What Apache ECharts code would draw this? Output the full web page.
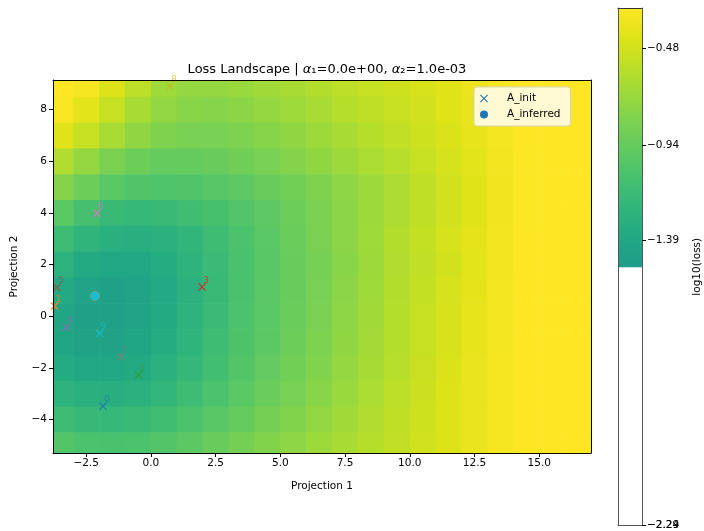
<!DOCTYPE html>
<html>
<head>
<meta charset="utf-8">
<script src="https://cdn.jsdelivr.net/npm/echarts@6/dist/echarts.min.js"></script>
<style>html,body{margin:0;padding:0;background:#fff}#c{width:704px;height:531px}</style>
</head>
<body>
<div id="c"></div>
<script>
// ---- data ----
const xCenters = [-3.5,-2.5,-1.5,-0.5,0.5,1.5,2.5,3.5,4.5,5.5,6.5,7.5,8.5,9.5,10.5,11.5,12.5,13.5,14.5,15.5,16.5];
const yCenters = [9,8,7,6,5,4,3,2,1,0,-1,-2,-3,-4,-5];
const lossGrid = [
  [-0.29,-0.32,-0.44,-0.57,-0.69,-0.73,-0.73,-0.71,-0.68,-0.65,-0.61,-0.57,-0.53,-0.50,-0.46,-0.42,-0.37,-0.32,-0.29,-0.29,-0.29],
  [-0.31,-0.41,-0.53,-0.65,-0.74,-0.78,-0.79,-0.77,-0.73,-0.69,-0.65,-0.60,-0.56,-0.52,-0.48,-0.43,-0.38,-0.33,-0.29,-0.29,-0.29],
  [-0.43,-0.53,-0.65,-0.75,-0.82,-0.85,-0.85,-0.83,-0.79,-0.75,-0.70,-0.65,-0.60,-0.55,-0.50,-0.45,-0.39,-0.33,-0.29,-0.29,-0.29],
  [-0.62,-0.73,-0.84,-0.91,-0.95,-0.95,-0.93,-0.89,-0.85,-0.80,-0.75,-0.70,-0.64,-0.59,-0.53,-0.47,-0.41,-0.34,-0.30,-0.29,-0.29],
  [-0.80,-0.91,-1.00,-1.05,-1.06,-1.05,-1.02,-0.98,-0.93,-0.88,-0.82,-0.76,-0.70,-0.63,-0.56,-0.49,-0.42,-0.35,-0.30,-0.29,-0.29],
  [-1.00,-1.11,-1.19,-1.21,-1.19,-1.14,-1.10,-1.04,-0.98,-0.91,-0.84,-0.77,-0.70,-0.63,-0.56,-0.49,-0.42,-0.35,-0.30,-0.29,-0.29],
  [-1.15,-1.25,-1.31,-1.32,-1.29,-1.24,-1.16,-1.08,-1.00,-0.92,-0.84,-0.77,-0.69,-0.61,-0.54,-0.47,-0.40,-0.34,-0.29,-0.29,-0.29],
  [-1.28,-1.37,-1.41,-1.40,-1.35,-1.27,-1.18,-1.09,-1.01,-0.93,-0.86,-0.78,-0.70,-0.62,-0.55,-0.48,-0.41,-0.34,-0.29,-0.29,-0.29],
  [-1.38,-1.45,-1.47,-1.44,-1.38,-1.29,-1.19,-1.09,-1.00,-0.93,-0.85,-0.77,-0.69,-0.61,-0.54,-0.47,-0.40,-0.33,-0.29,-0.29,-0.29],
  [-1.42,-1.47,-1.48,-1.44,-1.37,-1.28,-1.18,-1.08,-1.00,-0.92,-0.84,-0.76,-0.68,-0.60,-0.53,-0.46,-0.39,-0.33,-0.29,-0.29,-0.29],
  [-1.42,-1.46,-1.46,-1.42,-1.35,-1.26,-1.16,-1.07,-0.99,-0.91,-0.83,-0.75,-0.67,-0.60,-0.53,-0.46,-0.39,-0.33,-0.29,-0.29,-0.29],
  [-1.36,-1.40,-1.40,-1.37,-1.30,-1.22,-1.13,-1.04,-0.96,-0.88,-0.81,-0.73,-0.66,-0.59,-0.52,-0.45,-0.38,-0.32,-0.29,-0.29,-0.29],
  [-1.27,-1.31,-1.32,-1.29,-1.23,-1.16,-1.08,-1.00,-0.92,-0.85,-0.78,-0.71,-0.64,-0.57,-0.51,-0.44,-0.38,-0.32,-0.29,-0.29,-0.29],
  [-1.16,-1.20,-1.21,-1.19,-1.14,-1.08,-1.01,-0.94,-0.87,-0.81,-0.74,-0.68,-0.62,-0.56,-0.50,-0.44,-0.38,-0.32,-0.29,-0.29,-0.29],
  [-1.04,-1.08,-1.09,-1.08,-1.04,-0.99,-0.93,-0.87,-0.81,-0.76,-0.70,-0.65,-0.60,-0.55,-0.49,-0.44,-0.38,-0.32,-0.29,-0.29,-0.29]
];
const initX = [-1.85,-3.72,-0.48,1.98,-3.26,-3.63,-2.08,-1.17,0.74,-1.98];
const initY = [-3.49,0.39,-2.28,1.13,-0.43,1.11,3.99,-1.57,8.92,-0.67];
const initLabels = ['0','1','2','3','4','5','6','7','8','9'];
const inferredX = [-2.16,-2.16,-2.16,-2.16,-2.16,-2.16,-2.16,-2.16,-2.16,-2.16];
const inferredY = [0.78,0.78,0.78,0.78,0.78,0.78,0.78,0.78,0.78,0.78];
const xTicks = [-2.5,0,2.5,5,7.5,10,12.5,15];
const yTicks = [-4,-2,0,2,4,6,8];
const cbarTicks = [-1.39,-0.94,-0.48];
const cbarBottomLabels = ['-2.29','-2.24'];
const cbarColoredRange = [-1.52,-0.29];

// ---- styles ----
const tab10 = ['#1f77b4','#ff7f0e','#2ca02c','#d62728','#9467bd','#8c564b','#e377c2','#7f7f7f','#bcbd22','#17becf'];
const viridis = ['#440154','#471365','#482475','#463480','#414487','#3b528b','#355f8d','#2f6c8e','#2a788e','#25848e','#21918c','#1e9c89','#22a884','#2fb47c','#44bf70','#5ec962','#7ad151','#9bd93c','#bddf26','#dfe318','#fde725'];
const FONT = 'DejaVu Sans';
const minus = s => String(s).replace('-', '\u2212');
const crossPath = 'path://M1,0 L5,4 L9,0 L10,1 L6,5 L10,9 L9,10 L5,6 L1,10 L0,9 L4,5 L0,1 Z';

const fieldData = [];
yCenters.forEach((y, r) => xCenters.forEach((x, c) => fieldData.push([x, y, lossGrid[r][c]])));

const chart = echarts.init(document.getElementById('c'), null, {renderer: 'canvas'});
const XMIN = -3.78, XMAX = 17.0, YMIN = -5.3, YMAX = 9.15;
const CB_MIN = -2.745, CB_MAX = -0.29;

function ax(extra, lineColor) {
  return Object.assign({
    type: 'value', z: 10, splitLine: {show: false},
    axisLine: {show: true, onZero: false, lineStyle: {color: lineColor || '#000', width: 1}},
    axisTick: {show: false}, axisLabel: {show: false}
  }, extra);
}
const labelStyle = {fontFamily: FONT, fontSize: 10.5, color: '#000'};

chart.setOption({
  animation: false,
  backgroundColor: '#fff',
  title: {
    text: 'Loss Landscape | {i|\u03b1}\u2081=0.0e+00, {i|\u03b1}\u2082=1.0e-03',
    left: 322, top: 58, textAlign: 'center',
    textStyle: {fontFamily: FONT, fontSize: 13, fontWeight: 'normal', color: '#000',
      rich: {i: {fontFamily: FONT, fontSize: 13, fontStyle: 'italic', color: '#000'}}}
  },
  legend: {
    orient: 'vertical', left: 474, top: 87,
    padding: [6, 10, 6, 6], itemGap: 5, itemWidth: 22, itemHeight: 8,
    backgroundColor: '#fffad4', borderColor: '#d6d3b5', borderWidth: 1, borderRadius: 3,
    textStyle: {fontFamily: FONT, fontSize: 10.5, color: '#000', padding: [0, 0, 0, 7]},
    data: [{name: 'A_init', icon: crossPath}, {name: 'A_inferred', icon: 'circle'}]
  },
  visualMap: {
    show: false, type: 'continuous', min: -3.05, max: -0.29, dimension: 2, seriesIndex: 0,
    inRange: {color: viridis}
  },
  grid: [
    {left: 53, top: 80, width: 538, height: 373},
    {left: 618, top: 8, width: 24, height: 518, show: true, backgroundColor: '#fff', borderWidth: 0}
  ],
  xAxis: [
    ax({gridIndex: 0, min: XMIN, max: XMAX,
      name: 'Projection 1', nameLocation: 'middle', nameGap: 28, nameTextStyle: labelStyle,
      axisTick: {show: true, length: 4, customValues: xTicks, lineStyle: {color: '#000'}},
      axisLabel: Object.assign({show: true, customValues: xTicks, margin: 5,
        formatter: v => minus(v.toFixed(1))}, labelStyle)}),
    ax({gridIndex: 0, min: XMIN, max: XMAX, position: 'top'}),
    ax({gridIndex: 1, min: 0, max: 1, position: 'bottom'}, '#555'),
    ax({gridIndex: 1, min: 0, max: 1, position: 'top'}, '#333')
  ],
  yAxis: [
    ax({gridIndex: 0, min: YMIN, max: YMAX,
      name: 'Projection 2', nameLocation: 'middle', nameGap: 33, nameTextStyle: labelStyle,
      axisTick: {show: true, length: 4, customValues: yTicks, lineStyle: {color: '#000'}},
      axisLabel: Object.assign({show: true, customValues: yTicks, margin: 6,
        formatter: v => minus(Math.round(v))}, labelStyle)}),
    ax({gridIndex: 0, min: YMIN, max: YMAX, position: 'right'}),
    ax({gridIndex: 1, min: CB_MIN, max: CB_MAX, position: 'right',
      name: 'log10(loss)', nameLocation: 'middle', nameRotate: 90, nameGap: 50, nameTextStyle: labelStyle,
      axisTick: {show: true, length: 4, customValues: cbarTicks.concat([CB_MIN]), lineStyle: {color: '#000'}},
      axisLabel: Object.assign({show: true, customValues: cbarTicks.concat([CB_MIN]), margin: 5,
        formatter: v => Math.abs(v - CB_MIN) < 1e-6 ? minus(cbarBottomLabels[0]) : minus(v.toFixed(2))}, labelStyle)}, '#555'),
    ax({gridIndex: 1, min: CB_MIN, max: CB_MAX, position: 'left'}, '#555'),
    ax({gridIndex: 1, min: CB_MIN, max: CB_MAX, position: 'right',
      axisLine: {show: false},
      axisLabel: Object.assign({show: true, customValues: [CB_MIN], margin: 5,
        formatter: () => minus(cbarBottomLabels[1])}, labelStyle)})
  ],
  series: [
    {
      type: 'custom', xAxisIndex: 0, yAxisIndex: 0, z: 1, silent: true,
      data: fieldData,
      renderItem: (params, api) => {
        const x = api.value(0), y = api.value(1);
        const p0 = api.coord([x - 0.5, y + 0.5]);
        const p1 = api.coord([x + 0.5, y - 0.5]);
        const shape = echarts.graphic.clipRectByRect(
          {x: p0[0], y: p0[1], width: p1[0] - p0[0] + 0.6, height: p1[1] - p0[1] + 0.6},
          {x: params.coordSys.x, y: params.coordSys.y, width: params.coordSys.width, height: params.coordSys.height});
        if (!shape) return null;
        return {type: 'rect', shape: shape, style: {fill: api.visual('color')}};
      }
    },
    {
      name: 'A_init', type: 'scatter', xAxisIndex: 0, yAxisIndex: 0, z: 4, clip: true,
      symbol: crossPath, symbolSize: 8,
      itemStyle: {color: tab10[0], opacity: 1},
      data: initX.map((x, i) => ({
        value: [x, initY[i]],
        itemStyle: {color: tab10[i], opacity: 1},
        label: {show: true, formatter: initLabels[i], color: tab10[i], opacity: 0.75,
          position: [5, -7], fontFamily: FONT, fontSize: 9}
      }))
    },
    {
      name: 'A_inferred', type: 'scatter', xAxisIndex: 0, yAxisIndex: 0, z: 5, clip: true,
      symbol: 'circle', symbolSize: 9,
      itemStyle: {color: tab10[0], opacity: 1},
      data: inferredX.map((x, i) => ({value: [x, inferredY[i]], itemStyle: {color: tab10[i], opacity: 1}}))
    },
    {
      type: 'custom', xAxisIndex: 2, yAxisIndex: 2, z: 1, silent: true,
      data: [[0, cbarColoredRange[0], cbarColoredRange[1]]],
      renderItem: (params, api) => {
        const pb = api.coord([0, api.value(1)]);
        const pt = api.coord([1, api.value(2)]);
        return {type: 'rect',
          shape: {x: pb[0], y: pt[1], width: pt[0] - pb[0], height: pb[1] - pt[1]},
          style: {fill: new echarts.graphic.LinearGradient(0, 1, 0, 0,
            viridis.slice(11).map((c, k, arr) => ({offset: k / (arr.length - 1), color: c})))}};
      }
    }
  ]
});
</script>
</body>
</html>
